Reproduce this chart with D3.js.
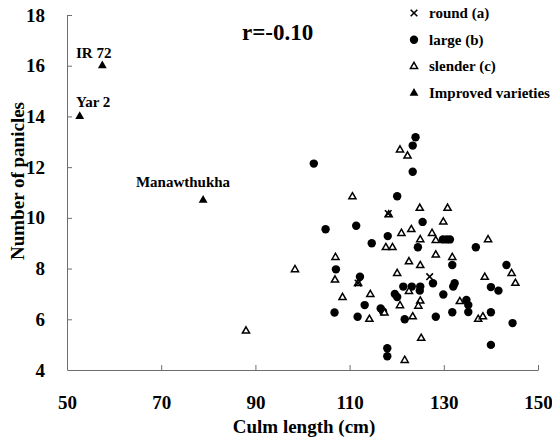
<!DOCTYPE html>
<html>
<head>
<meta charset="utf-8">
<script src="https://cdn.jsdelivr.net/npm/d3@7"></script>
<style>
  body { margin: 0; background: #fff; }
  svg { display: block; font-family: "Liberation Serif", "Times New Roman", serif; font-weight: bold; }
</style>
</head>
<body>
<svg id="chart" width="552" height="441"></svg>
<script>
const width = 552;
const height = 441;
const margin = { top: 15, right: 14, bottom: 71, left: 67 };

// culm length (cm), number of panicles
const roundPts = [[118.2, 10.17], [127.0, 7.68], [111.8, 7.43]];
const largePts = [
  [102.4, 12.14], [124.0, 13.18], [123.4, 12.85], [123.4, 11.82], [120.1, 10.85],
  [125.5, 9.84], [104.9, 9.55], [111.4, 9.69], [118.1, 9.28], [114.7, 9.0],
  [124.5, 8.84], [129.8, 9.15], [130.6, 9.15], [131.3, 9.15], [136.8, 8.84],
  [131.8, 8.14], [143.3, 8.14], [107.1, 7.97], [112.2, 7.68], [127.7, 7.42],
  [132.3, 7.42], [132.0, 7.29], [121.4, 7.29], [123.2, 7.29], [125.0, 7.29],
  [124.9, 7.13], [140.0, 7.27], [141.6, 7.13], [129.9, 6.98], [119.6, 7.0],
  [120.1, 6.88], [113.2, 6.56], [116.6, 6.43], [117.1, 6.31], [134.8, 6.76],
  [135.2, 6.56], [135.2, 6.29], [131.8, 6.28], [140.0, 6.28], [106.8, 6.27],
  [111.7, 6.10], [121.7, 6.0], [128.3, 6.10], [144.6, 5.85], [140.0, 4.99],
  [118.0, 4.86], [118.0, 4.54]
];
const slenderPts = [
  [120.7, 12.68], [122.3, 12.44], [110.6, 10.83], [124.9, 10.38], [130.8, 10.38],
  [129.9, 9.84], [121.0, 9.39], [123.1, 9.54], [127.5, 9.39], [125.0, 9.14],
  [128.3, 9.11], [139.4, 9.14], [117.7, 8.83], [119.1, 8.83], [128.3, 8.54],
  [131.8, 8.44], [107.0, 8.44], [98.4, 7.96], [106.9, 7.55], [122.6, 8.27],
  [125.0, 8.12], [120.1, 7.81], [138.7, 7.66], [144.4, 7.81], [145.2, 7.42],
  [111.8, 7.41], [122.6, 7.10], [108.5, 6.86], [114.4, 6.98], [120.7, 6.54],
  [125.0, 6.72], [124.6, 6.52], [133.4, 6.70], [117.4, 6.25], [114.2, 6.0],
  [123.4, 6.10], [137.3, 6.0], [138.3, 6.10], [125.2, 5.25], [121.7, 4.38],
  [88.0, 5.54], [118.3, 10.12]
];
const improvedPts = [[57.5, 16.0], [52.7, 14.0], [78.9, 10.7]];
const improvedNames = ["IR 72", "Yar 2", "Manawthukha"];

const xTicks = [50, 70, 90, 110, 130, 150];
const yTicks = [4, 6, 8, 10, 12, 14, 16, 18];
const legendLabels = ["round (a)", "large (b)", "slender (c)", "Improved varieties"];

const svg = d3.select("#chart");
const chartWidth = width - margin.left - margin.right;
const chartHeight = height - margin.top - margin.bottom;
const g = svg.append("g").attr("transform", `translate(${margin.left},${margin.top})`);

const x = d3.scaleLinear().domain([50, 150]).range([0, chartWidth]);
const y = d3.scaleLinear().domain([4, 18]).range([chartHeight, 0]);

const axisColor = "#6e6e6e";

const xAxis = g.append("g")
  .attr("transform", `translate(0,${chartHeight})`)
  .call(d3.axisBottom(x).tickValues(xTicks).tickSizeInner(-5).tickSizeOuter(0).tickPadding(26));
const yAxis = g.append("g")
  .call(d3.axisLeft(y).tickValues(yTicks).tickSizeInner(-5).tickSizeOuter(0).tickPadding(22));

[xAxis, yAxis].forEach(a => {
  a.select(".domain").attr("stroke", axisColor);
  a.selectAll(".tick line").attr("stroke", axisColor);
  a.selectAll(".tick text")
    .attr("fill", "#000")
    .style("font-family", "'Liberation Serif', serif")
    .style("font-weight", "bold")
    .style("font-size", "19px");
});
xAxis.selectAll(".tick").filter(d => d === 50).select("line").remove();
yAxis.selectAll(".tick").filter(d => d === 4).select("line").remove();

// axis titles
svg.append("text")
  .attr("x", 304).attr("y", 433)
  .attr("text-anchor", "middle")
  .style("font-size", "19px")
  .text("Culm length (cm)");

svg.append("text")
  .attr("transform", "translate(24,181) rotate(-90)")
  .attr("text-anchor", "middle")
  .style("font-size", "19px")
  .text("Number of panicles");

// correlation
svg.append("text")
  .attr("x", 242).attr("y", 40)
  .style("font-size", "23px")
  .text("r=-0.10");

const triOpen = d3.symbol().type(d3.symbolTriangle).size(22);
const triFilled = d3.symbol().type(d3.symbolTriangle).size(34);

function drawX(sel, s) {
  sel.append("path")
    .attr("d", `M${-s},${-s}L${s},${s}M${-s},${s}L${s},${-s}`)
    .attr("stroke", "#000")
    .attr("stroke-width", 1.6)
    .attr("fill", "none");
}

g.selectAll("circle.large")
  .data(largePts)
  .enter().append("circle")
  .attr("class", "large")
  .attr("cx", d => x(d[0]))
  .attr("cy", d => y(d[1]))
  .attr("r", 4.2)
  .attr("fill", "#000");

g.selectAll("path.slender")
  .data(slenderPts)
  .enter().append("path")
  .attr("class", "slender")
  .attr("d", triOpen)
  .attr("transform", d => `translate(${x(d[0])},${y(d[1])})`)
  .attr("fill", "#fff")
  .attr("stroke", "#000")
  .attr("stroke-width", 1.5);

g.selectAll("g.round")
  .data(roundPts)
  .enter().append("g")
  .attr("class", "round")
  .attr("transform", d => `translate(${x(d[0])},${y(d[1])})`)
  .each(function() { drawX(d3.select(this), 3.3); });

g.selectAll("path.improved")
  .data(improvedPts)
  .enter().append("path")
  .attr("class", "improved")
  .attr("d", triFilled)
  .attr("transform", d => `translate(${x(d[0])},${y(d[1])})`)
  .attr("fill", "#000");

// variety labels
const labelPos = [[76, 58, "start"], [76, 107, "start"], [183, 187, "middle"]];
improvedNames.forEach((name, i) => {
  svg.append("text")
    .attr("x", labelPos[i][0]).attr("y", labelPos[i][1])
    .attr("text-anchor", labelPos[i][2])
    .style("font-size", "15px")
    .text(name);
});

// legend
const legend = svg.append("g").attr("transform", "translate(414,13)");
legendLabels.forEach((label, i) => {
  const row = legend.append("g").attr("transform", `translate(0,${i * 26.7})`);
  if (i === 0) drawX(row, 3.3);
  if (i === 1) row.append("circle").attr("r", 4.2).attr("fill", "#000");
  if (i === 2) row.append("path").attr("d", triOpen).attr("fill", "#fff").attr("stroke", "#000").attr("stroke-width", 1.5);
  if (i === 3) row.append("path").attr("d", triFilled).attr("fill", "#000");
  row.append("text")
    .attr("x", 15).attr("y", 5)
    .style("font-size", "15px")
    .text(label);
});
</script>
</body>
</html>
